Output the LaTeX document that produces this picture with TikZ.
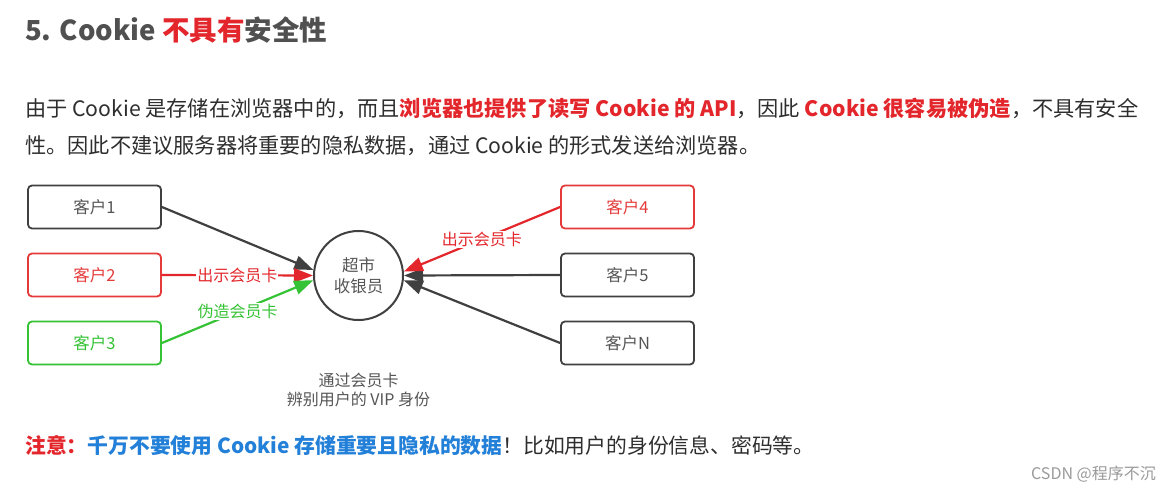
\documentclass[tikz,border=0pt]{standalone}
\usepackage{fontspec}
\setmainfont{Noto Sans CJK SC}
\usetikzlibrary{arrows.meta}
\definecolor{titlegray}{HTML}{505050}
\definecolor{txt}{HTML}{2e2e2e}
\definecolor{dgray}{HTML}{404040}
\definecolor{tred}{HTML}{E3262B}
\definecolor{bred}{HTML}{E53A3A}
\definecolor{tgreen}{HTML}{35C235}
\definecolor{tblue}{HTML}{2380D8}
\definecolor{capgray}{HTML}{555555}
\definecolor{wm}{HTML}{9A9A9A}
\tikzset{
  box/.style={draw, rounded corners=4pt, line width=1.8pt, minimum width=133pt, minimum height=43pt, inner sep=0pt, font=\fontsize{16.5}{18}\selectfont},
  arr/.style={line width=2.2pt, -{Triangle[length=19pt,width=14pt]}},
  lab/.style={fill=white, inner sep=1pt, font=\fontsize{16}{18}\selectfont},
  para/.style={anchor=west, inner sep=0pt, text=txt},
}
\begin{document}
\begin{tikzpicture}[x=1pt,y=-1pt]
\path[fill=white] (0,0) rectangle (1172,494);
\useasboundingbox (0,0) rectangle (1172,494);

\node[anchor=west, inner sep=0pt, text=titlegray, font=\fontsize{27.5}{30}\selectfont\bfseries] (title) at (25,30) {5. Cookie \textcolor{tred}{不具有}安全性};

\node[para, font=\fontsize{21.2}{24}\selectfont] (p1) at (25,108) {由于 Cookie 是存储在浏览器中的，而且\textcolor{tred}{\bfseries 浏览器也提供了读写 Cookie 的 API}，因此 \textcolor{tred}{\bfseries Cookie 很容易被伪造}，不具有安全};
\node[para, font=\fontsize{21.2}{24}\selectfont] (p2) at (25,146) {性。因此不建议服务器将重要的隐私数据，通过 Cookie 的形式发送给浏览器。};

\node[box, draw=dgray, text=capgray] (c1) at (94.5,207) {客户1};
\node[box, draw=bred, text=bred] (c2) at (94.5,275) {客户2};
\node[box, draw=tgreen, text=tgreen] (c3) at (94.5,343) {客户3};
\node[box, draw=bred, text=bred] (c4) at (627.5,207) {客户4};
\node[box, draw=dgray, text=capgray] (c5) at (627.5,275) {客户5};
\node[box, draw=dgray, text=capgray] (c6) at (627.5,343) {客户N};

\node[draw=dgray, circle, line width=2pt, minimum size=89pt, inner sep=0pt, align=center, text=capgray, font=\fontsize{16.5}{21}\selectfont] (cash) at (358.5,275.5) {超市\\收银员};

\draw[arr, dgray] (c1.east) -- (cash.173);
\draw[arr, dgray] (c5.west) -- (cash.0);
\draw[arr, dgray] (c6.west) -- (cash.-6);
\draw[arr, tred] (c2.east) -- node[lab, text=tred] {出示会员卡} (cash.180);
\draw[arr, tgreen] (c3.east) -- node[lab, text=tgreen] {伪造会员卡} (cash.186);
\draw[arr, tred] (c4.west) -- node[lab, text=tred] {出示会员卡} (cash.5);

\node[align=center, inner sep=0pt, text=capgray, font=\fontsize{16}{19.5}\selectfont] (cap) at (358.5,390) {通过会员卡\\辨别用户的 VIP 身份};

\node[para, font=\fontsize{20.8}{24}\selectfont] (note) at (25,446) {\textcolor{tred}{\bfseries 注意：}\textcolor{tblue}{\bfseries 千万不要使用 Cookie 存储重要且隐私的数据}！比如用户的身份信息、密码等。};

\node[anchor=east, inner sep=0pt, text=wm, font=\fontsize{16}{18}\selectfont] (wm) at (1156,474) {CSDN @程序不沉};
\end{tikzpicture}
\end{document}
